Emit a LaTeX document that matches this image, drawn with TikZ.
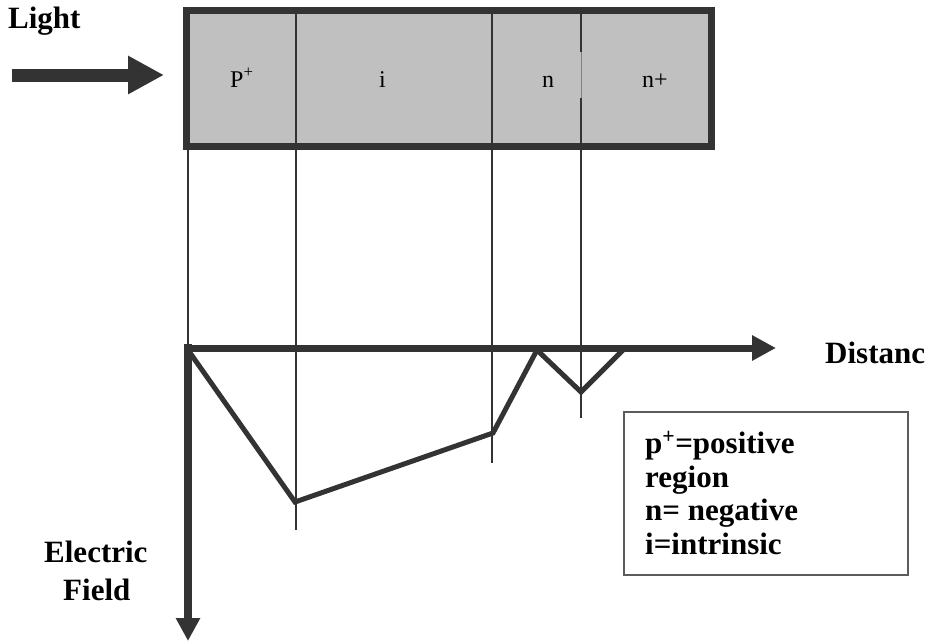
\documentclass[tikz,border=0pt]{standalone}
\usepackage{fontspec}
\setmainfont{Liberation Serif}
\usetikzlibrary{arrows.meta}
\definecolor{dk}{HTML}{333333}
\definecolor{boxfill}{HTML}{C0C0C0}
\tikzset{
  lbl/.style={anchor=base west,inner sep=0pt,font=\fontsize{31}{36}\selectfont\bfseries},
  reg/.style={anchor=base west,inner sep=0pt,font=\fontsize{24}{28}\selectfont},
  thin line/.style={draw=dk,line width=1.6pt},
  field/.style={draw=dk,line width=5pt,line join=miter},
}
\begin{document}
\begin{tikzpicture}[x=1pt,y=-1pt]
\useasboundingbox (0,0) rectangle (934,643);
% device box
\fill[boxfill] (186.5,10.5) rectangle (711,146.5);
% coordinates
\coordinate (a1) at (188,150); \coordinate (a2) at (188,348);
\coordinate (b1) at (296,12);  \coordinate (b2) at (296,530);
\coordinate (c1) at (492,12);  \coordinate (c2) at (492,463);
\coordinate (d1) at (581,12);  \coordinate (d2) at (581,418);
\coordinate (dg1) at (581,52); \coordinate (dg2) at (581,98);
\draw[thin line] (a1) -- (a2);
\draw[thin line] (b1) -- (b2);
\draw[thin line] (c1) -- (c2);
\draw[thin line] (d1) -- (dg1);
\draw[draw=gray,line width=0.8pt] (dg1) -- (dg2);
\draw[thin line] (dg2) -- (d2);
\draw[draw=dk,line width=7pt] (186.5,10.5) rectangle (711,146.5);
% labels in box
\node[reg] (lp) at (230,87) {P\textsuperscript{+}};
\node[reg] (li) at (379,87) {i};
\node[reg] (ln) at (542,87) {n};
\node[reg] (lnp) at (642,87) {n+};
% light arrow
\coordinate (l1) at (12,75); \coordinate (l2) at (164,75);
\draw[draw=dk,fill=dk,line width=13pt,-{Triangle[length=36pt,width=36pt]}] (l1) -- (l2);
\node[lbl] (light) at (8,28) {Light};
% axes
\coordinate (o) at (184.5,348); \coordinate (xe) at (776,348);
\coordinate (oy) at (188,344); \coordinate (ye) at (188,641);
\draw[draw=dk,fill=dk,line width=7pt,-{Triangle[length=24pt,width=24pt]}] (o) -- (xe);
\draw[draw=dk,fill=dk,line width=8pt,-{Triangle[length=23pt,width=23pt]}] (oy) -- (ye);
\node[lbl] (dist) at (825,363) {Distanc};
\node[lbl] (ef1) at (44,562) {Electric};
\node[lbl] (ef2) at (63,600) {Field};
% field profile
\coordinate (f0) at (188,350); \coordinate (f1) at (295,502);
\coordinate (f2) at (493,433); \coordinate (f3) at (537,350);
\coordinate (f4) at (581,392); \coordinate (f5) at (623,350);
\draw[field] (f0) -- (f1) -- (f2) -- (f3) -- (f4) -- (f5);
% legend
\draw[draw=dk!80,line width=1.5pt] (624,412) rectangle (908,575);
\node[lbl] (g1) at (645,453) {p\textsuperscript{+}=positive};
\node[lbl] (g2) at (645,487) {region};
\node[lbl] (g3) at (645,520) {n= negative};
\node[lbl] (g4) at (645,554) {i=intrinsic};
\end{tikzpicture}
\end{document}
